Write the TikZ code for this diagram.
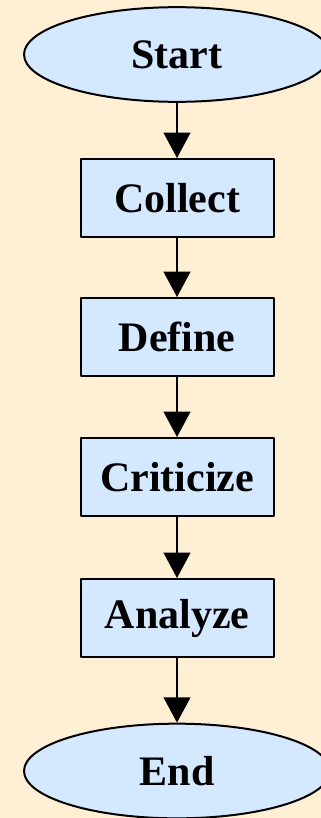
\documentclass[tikz,border=0pt]{standalone}
\usepackage{fontspec}
\setmainfont{Liberation Serif}
\usetikzlibrary{shapes.geometric,arrows.meta}
\definecolor{paper}{RGB}{255,239,212}
\definecolor{boxblue}{RGB}{212,232,255}
\tikzset{
	stepbox/.style={draw, line width=1.5pt, fill=boxblue, minimum width=144.75pt, minimum height=58.5pt, inner sep=0pt},
	termbox/.style={draw, ellipse, line width=1.5pt, fill=boxblue, minimum width=229.5pt, minimum height=71pt, inner sep=0pt},
	flow/.style={line width=1.5pt, -{Triangle[length=19pt,width=20pt]}}
}
\begin{document}
\begin{tikzpicture}[font=\bfseries\fontsize{31.5}{36}\selectfont, line join=round]
					\begin{scope}[x=0.75pt, y=-0.75pt]
						\fill[paper] (0,0) rectangle (321,818);
						\useasboundingbox (0,0) rectangle (321,818);
						\clip (0,0) rectangle (321,818);
						\node[termbox] (start) at (177,54.5) {Start};
						\node[stepbox] (collect) at (177,198) {Collect};
						\node[stepbox] (define) at (177,337) {Define};
						\node[stepbox] (criticize) at (177,477) {Criticize};
						\node[stepbox] (analyze) at (177,618) {Analyze};
						\node[termbox] (end) at (177,771) {End};
						\draw[flow] (start) -- (collect);
						\draw[flow] (collect) -- (define);
						\draw[flow] (define) -- (criticize);
						\draw[flow] (criticize) -- (analyze);
						\draw[flow] (analyze) -- (end);
					\end{scope}
				\end{tikzpicture}
\end{document}
